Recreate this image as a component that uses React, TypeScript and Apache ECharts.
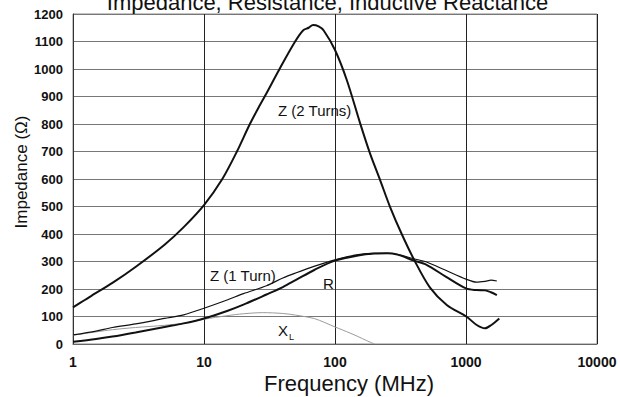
import React, { useEffect, useRef } from "react";
import * as echarts from "echarts";

// Frequency (MHz) and impedance (Ω) values
const z2Freq = [1, 1.23, 1.5, 2, 3, 5, 7, 10, 13.8, 17.8, 22.4, 26.8, 30, 38, 49.5, 57, 63, 68, 75, 82, 100, 123, 155, 185, 221, 263, 323, 408, 531, 713, 1012, 1200, 1396, 1550, 1796];
const z2Val = [133, 160, 186, 222, 280, 361, 425, 505, 600, 699, 800, 870, 912, 1003, 1099, 1140, 1150, 1160, 1155, 1140, 1069, 960, 805, 693, 596, 499, 400, 300, 205, 142, 99, 70, 57, 68, 93];

const z1Freq = [1, 1.5, 2, 3, 5, 7, 10, 15, 20, 30, 40, 50, 70, 100, 150, 200, 250, 300, 400, 500, 700, 1000, 1200, 1400, 1550, 1720];
const z1Val = [33, 47, 60, 73, 93, 106, 130, 160, 183, 212, 240, 258, 283, 306, 325, 330, 330, 326, 310, 298, 268, 236, 225, 228, 232, 229];

const rFreq = [1, 1.5, 2, 3, 5, 7, 10, 15, 20, 30, 40, 50, 70, 100, 150, 200, 250, 300, 400, 500, 700, 1000, 1200, 1400, 1550, 1720];
const rVal = [8, 18, 27, 42, 62, 75, 93, 120, 143, 180, 207, 232, 270, 303, 322, 329, 330, 325, 303, 288, 245, 202, 196, 195, 188, 178];

const xlFreq = [1, 1.5, 2, 3, 5, 7, 10, 15, 20, 28, 40, 50, 70, 100, 130, 150, 175, 200];
const xlVal = [32, 44, 52, 60, 68, 76, 90, 103, 110, 114, 111, 105, 92, 62, 40, 27, 12, 0];

const xTicks = [1, 10, 100, 1000, 10000];

const pairs = (f: number[], v: number[]) => f.map((x, i) => [x, v[i]]);

export default function App() {
  const ref = useRef<HTMLDivElement>(null);
  useEffect(() => {
    document.body.style.margin = "0";
    const chart = echarts.init(ref.current!, undefined, { renderer: "svg" });
    const font = "'Liberation Sans', Arial, sans-serif";
    const lineSeries = (name: string, data: number[][], color: string, width: number) => ({
      name,
      type: "line",
      data,
      smooth: 0.3,
      showSymbol: false,
      symbol: "none",
      lineStyle: { color, width },
      z: 3,
    });
    chart.setOption({
      animation: false,
      backgroundColor: "#ffffff",
      grid: { left: 73, right: 23, top: 14, bottom: 53, show: true, borderColor: "#888", borderWidth: 1 },
      xAxis: {
        type: "log",
        logBase: 10,
        min: 1,
        max: 10000,
        axisLine: { show: true, lineStyle: { color: "#666", width: 1 } },
        axisTick: { show: false },
        minorTick: { show: false },
        axisLabel: {
          fontFamily: font,
          fontWeight: "bold",
          fontSize: 14,
          color: "#111",
          margin: 11,
          formatter: (v: number) => (xTicks.includes(v) ? String(v) : ""),
        },
        splitLine: { show: true, lineStyle: { color: "#222", width: 1 } },
      },
      yAxis: {
        type: "value",
        min: 0,
        max: 1200,
        interval: 100,
        axisLine: { show: true, lineStyle: { color: "#333", width: 1 } },
        axisTick: { show: false },
        axisLabel: {
          fontFamily: font,
          fontWeight: "bold",
          fontSize: 13,
          color: "#111",
          margin: 10,
          formatter: (v: number) => String(v),
        },
        splitLine: { show: true, lineStyle: { color: "#777", width: 1 } },
      },
      series: [
        lineSeries("XL", pairs(xlFreq, xlVal), "#9a9a9a", 1),
        lineSeries("R", pairs(rFreq, rVal), "#111", 2),
        lineSeries("Z (1 Turn)", pairs(z1Freq, z1Val), "#111", 1.2),
        lineSeries("Z (2 Turns)", pairs(z2Freq, z2Val), "#111", 2),
      ],
      graphic: [
        {
          type: "text",
          x: 327.5,
          y: 2.5,
          style: { text: "Impedance, Resistance, Inductive Reactance", font: `22px ${font}`, fill: "#111", align: "center", verticalAlign: "middle" },
        },
        {
          type: "text",
          x: 349,
          y: 383.5,
          style: { text: "Frequency (MHz)", font: `22px ${font}`, fill: "#111", align: "center", verticalAlign: "middle" },
        },
        {
          type: "text",
          x: 21,
          y: 172,
          rotation: Math.PI / 2,
          style: { text: "Impedance (Ω)", font: `17px ${font}`, fill: "#111", align: "center", verticalAlign: "middle" },
        },
        {
          type: "text",
          x: 278,
          y: 110,
          z: 10,
          style: { text: "Z (2 Turns)", font: `15px ${font}`, fill: "#111", align: "left", verticalAlign: "middle" },
        },
        {
          type: "text",
          x: 210,
          y: 275,
          z: 10,
          style: { text: "Z (1 Turn)", font: `15px ${font}`, fill: "#111", align: "left", verticalAlign: "middle" },
        },
        {
          type: "text",
          x: 323,
          y: 283,
          z: 10,
          style: { text: "R", font: `15px ${font}`, fill: "#111", align: "left", verticalAlign: "middle" },
        },
        {
          type: "text",
          x: 278,
          y: 330,
          z: 10,
          style: { text: "X", font: `15px ${font}`, fill: "#111", align: "left", verticalAlign: "middle" },
        },
        {
          type: "text",
          x: 289,
          y: 337,
          z: 10,
          style: { text: "L", font: `9px ${font}`, fill: "#111", align: "left", verticalAlign: "middle" },
        },
      ],
    });
    return () => chart.dispose();
  }, []);
  return <div ref={ref} style={{ position: "fixed", left: 0, top: 0, width: 620, height: 397 }} />;
}
